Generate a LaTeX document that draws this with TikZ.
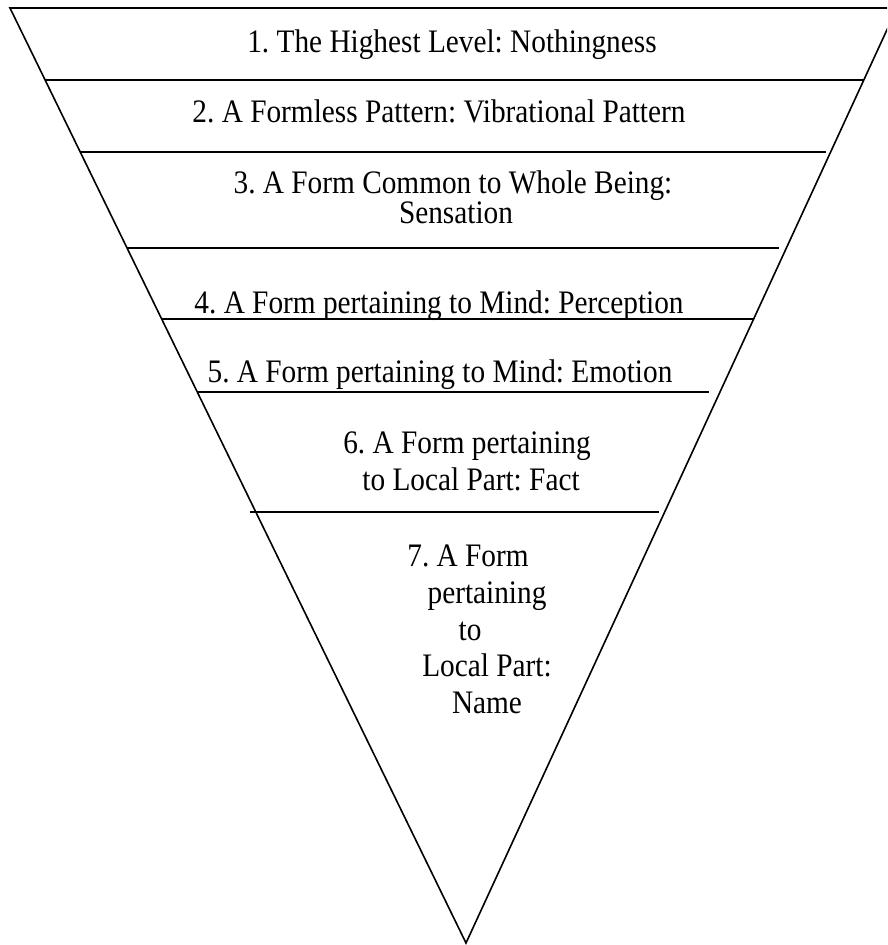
\documentclass[tikz,border=0pt]{standalone}
\usepackage{fontspec}
\usepackage{graphicx}
\setmainfont{Liberation Serif}
\newcommand{\tall}[1]{\scalebox{1}[1.12]{#1}}
\begin{document}
\frenchspacing
\begin{tikzpicture}[x=1pt,y=-1pt,
  lbl/.style={anchor=base,inner sep=0pt,font=\fontsize{29.3}{33}\selectfont},
  edge/.style={line width=1.6pt,line join=miter,line cap=butt}]
\useasboundingbox (0,0) rectangle (887,945);
\clip (0,0) rectangle (887,945);
% triangle corners
\coordinate (TL) at (10,8);
\coordinate (TR) at (897,8);
\coordinate (AP) at (466,943);
\draw[edge] (TL) -- (TR) -- (AP) -- cycle;
% level dividers
\coordinate (l1a) at (45,80);  \coordinate (l1b) at (864,80);
\coordinate (l2a) at (80,152); \coordinate (l2b) at (826,152);
\coordinate (l3a) at (127,248); \coordinate (l3b) at (779,248);
\coordinate (l4a) at (161,319); \coordinate (l4b) at (754,319);
\coordinate (l5a) at (197,392); \coordinate (l5b) at (709,392);
\coordinate (l6a) at (250,512); \coordinate (l6b) at (659,512);
\draw[edge] (l1a) -- (l1b);
\draw[edge] (l2a) -- (l2b);
\draw[edge] (l3a) -- (l3b);
\draw[edge] (l4a) -- (l4b);
\draw[edge] (l5a) -- (l5b);
\draw[edge] (l6a) -- (l6b);
% labels
\node[lbl] (t1) at (452,52) {\tall{1. The Highest Level: Nothingness}};
\node[lbl] (t2) at (439,122) {\tall{2. A Formless Pattern: Vibrational Pattern}};
\node[lbl] (t3a) at (453,193) {\tall{3. A Form Common to Whole Being:}};
\node[lbl] (t3b) at (456,223) {\tall{Sensation}};
\node[lbl] (t4) at (439,313) {\tall{4. A Form pertaining to Mind: Perception}};
\node[lbl] (t5) at (440,382) {\tall{5. A Form pertaining to Mind: Emotion}};
\node[lbl] (t6a) at (467,453) {\tall{6. A Form pertaining}};
\node[lbl] (t6b) at (471,490) {\tall{to Local Part: Fact}};
\node[lbl] (t7a) at (468,566) {\tall{7. A Form}};
\node[lbl] (t7b) at (487,603) {\tall{pertaining}};
\node[lbl] (t7c) at (470,640) {\tall{to}};
\node[lbl] (t7d) at (487,676) {\tall{Local Part:}};
\node[lbl] (t7e) at (487,713) {\tall{Name}};
\end{tikzpicture}
\end{document}
